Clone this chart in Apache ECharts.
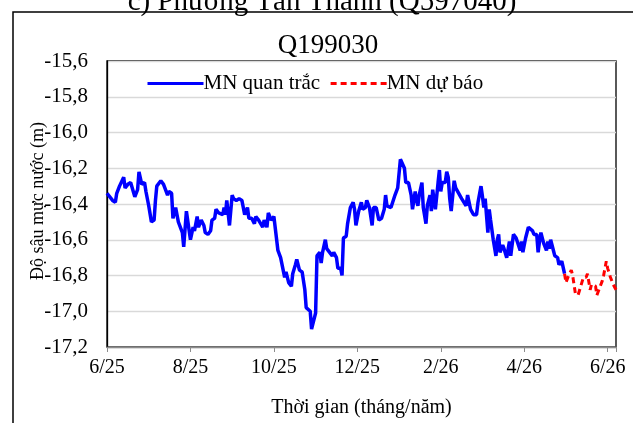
<!DOCTYPE html>
<html>
<head>
<meta charset="utf-8">
<script src="https://cdn.jsdelivr.net/npm/echarts@6/dist/echarts.min.js"></script>
<style>html,body{margin:0;padding:0;background:#fff;}#c{width:633px;height:423px;}</style>
</head>
<body>
<div id="c"></div>
<script>
// Days since 2025-06-01 and groundwater depth (m)
const startDate = [2025, 5, 1]; // 1 June 2025 (JS month index)
const obsDays = [0,1,4,6,7,9,12,13,15,17,20,22,23,25,27,28,30,32,34,35,36,39,41,42,44,45,47,48,50,52,53,55,56,58,59,61,63,64,66,67,69,71,72,74,76,77,79,80,82,85,86,87,88,90,92,93,95,97,99,101,103,104,106,108,109,111,114,115,117,118,120,122,123,125,127,128,130,131,133,135,136,138,139,141,143,145,146,149,150,152,153,154,156,157,158,160,161,162,165,166,168,169,171,172,173,175,176,178,180,181,182,184,186,187,189,190,192,194,195,197,199,201,203,204,205,208,209,211,213,215,216,218,219,221,223,224,226,227,228,229,231,232,234,235,237,238,239,240,241,243,244,245,246,248,249,250,251,252,254,255,256,259,260,262,263,265,267,269,270,272,273,274,275,277,278,279,280,281,283,284,285,286,288,289,291,293,294,296,298,299,301,302,303,305,307,308,310,311,313,314,315,316,317,318,320,321,322,323,325,326,328,329,331,333];
const obsValues = [-16.34,-16.33,-16.38,-16.39,-16.34,-16.30,-16.25,-16.31,-16.29,-16.28,-16.36,-16.32,-16.22,-16.29,-16.28,-16.33,-16.41,-16.50,-16.49,-16.38,-16.30,-16.27,-16.29,-16.30,-16.35,-16.33,-16.34,-16.48,-16.42,-16.50,-16.49,-16.56,-16.64,-16.44,-16.43,-16.60,-16.53,-16.55,-16.47,-16.53,-16.49,-16.52,-16.56,-16.57,-16.55,-16.49,-16.48,-16.43,-16.45,-16.46,-16.42,-16.46,-16.38,-16.52,-16.35,-16.37,-16.38,-16.37,-16.38,-16.46,-16.42,-16.48,-16.48,-16.51,-16.47,-16.49,-16.53,-16.49,-16.53,-16.45,-16.49,-16.47,-16.48,-16.66,-16.70,-16.70,-16.81,-16.78,-16.84,-16.86,-16.79,-16.74,-16.71,-16.77,-16.78,-16.88,-16.98,-17.00,-17.10,-17.04,-17.01,-16.69,-16.67,-16.73,-16.67,-16.60,-16.65,-16.64,-16.69,-16.67,-16.70,-16.76,-16.76,-16.80,-16.59,-16.58,-16.51,-16.42,-16.39,-16.43,-16.52,-16.44,-16.39,-16.43,-16.42,-16.38,-16.42,-16.52,-16.42,-16.42,-16.49,-16.48,-16.43,-16.35,-16.41,-16.42,-16.41,-16.35,-16.31,-16.15,-16.15,-16.20,-16.28,-16.28,-16.35,-16.43,-16.33,-16.38,-16.41,-16.35,-16.28,-16.42,-16.51,-16.41,-16.35,-16.44,-16.32,-16.32,-16.43,-16.28,-16.21,-16.33,-16.28,-16.28,-16.22,-16.25,-16.37,-16.44,-16.27,-16.31,-16.32,-16.37,-16.37,-16.41,-16.35,-16.43,-16.46,-16.46,-16.39,-16.30,-16.36,-16.42,-16.37,-16.56,-16.43,-16.49,-16.48,-16.60,-16.69,-16.60,-16.57,-16.67,-16.63,-16.65,-16.70,-16.61,-16.69,-16.57,-16.59,-16.58,-16.66,-16.61,-16.67,-16.59,-16.53,-16.53,-16.55,-16.57,-16.57,-16.67,-16.61,-16.56,-16.55,-16.62,-16.66,-16.61,-16.65,-16.60,-16.66,-16.69,-16.70,-16.74,-16.72,-16.79];
const fcDays = [333,334,336,338,339,341,343,345,347,349,350,352,353,356,357,359,361,362,364,365,367,369,371];
const fcValues = [-16.79,-16.84,-16.80,-16.77,-16.80,-16.90,-16.91,-16.86,-16.81,-16.81,-16.79,-16.88,-16.85,-16.86,-16.91,-16.87,-16.83,-16.80,-16.72,-16.76,-16.81,-16.85,-16.88];
const yTicks = [-17.2,-17.0,-16.8,-16.6,-16.4,-16.2,-16.0,-15.8,-15.6];
const seriesNames = ['MN quan trắc', 'MN dự báo'];
const chartTitle = 'Q199030';
const panelTitle = 'c) Phường Tân Thành (Q597040)';
const xAxisName = 'Thời gian (tháng/năm)';
const yAxisName = 'Độ sâu mực nước (m)';

// convert day offset to position in months since June 2025
function monthPos(dayOffset) {
  const d = new Date(Date.UTC(startDate[0], startDate[1], startDate[2] + dayOffset));
  const m = (d.getUTCFullYear() - startDate[0]) * 12 + d.getUTCMonth() - startDate[1];
  const dim = new Date(Date.UTC(d.getUTCFullYear(), d.getUTCMonth() + 1, 0)).getUTCDate();
  return m + (d.getUTCDate() - 1) / dim;
}
const obsData = obsDays.map((d, i) => [monthPos(d), obsValues[i]]);
const fcData = fcDays.map((d, i) => [monthPos(d), fcValues[i]]);
const xMax = monthPos(fcDays[fcDays.length - 1]);

const font = 'Liberation Serif, Times New Roman, serif';
const chart = echarts.init(document.getElementById('c'), null, {renderer: 'canvas'});
chart.setOption({
  animation: false,
  backgroundColor: '#fff',
  title: [
    {text: chartTitle, left: 323, top: 27, textAlign: 'center',
     textStyle: {fontFamily: font, fontSize: 27, fontWeight: 'normal', color: '#000'}},
    {text: panelTitle, left: 317, top: -17, textAlign: 'center',
     textStyle: {fontFamily: font, fontSize: 29, fontWeight: 'normal', color: '#000'}}
  ],
  graphic: [{type: 'rect', shape: {x: 13, y: 12, width: 640, height: 430},
    style: {fill: 'none', stroke: '#000', lineWidth: 1.5}, silent: true, z: 100}],
  legend: {
    left: 141, top: 68, itemWidth: 56, itemHeight: 10, itemGap: 9,
    itemStyle: {opacity: 0},
    lineStyle: {width: 3},
    textStyle: {fontFamily: font, fontSize: 21, color: '#000', padding: [0,0,0,-5]},
    data: seriesNames
  },
  grid: {left: 107, right: 17, top: 61, bottom: 76, show: true, borderColor: '#000', borderWidth: 1.3, backgroundColor: 'transparent'},
  xAxis: {
    type: 'value', min: 0, max: xMax, interval: 2,
    name: xAxisName, nameLocation: 'middle', nameGap: 51,
    nameTextStyle: {fontFamily: font, fontSize: 20, color: '#000'},
    axisLine: {show: true, lineStyle: {color: '#8c8c8c', width: 1.3}},
    axisTick: {show: true, length: 5, lineStyle: {color: '#8c8c8c'}},
    splitLine: {show: false},
    axisLabel: {fontFamily: font, fontSize: 20, color: '#000', margin: 11,
      formatter: function (v) {
        if (Math.abs(v - Math.round(v)) > 1e-6 || Math.round(v) % 2 !== 0) return '';
        const k = Math.round(v);
        const mo = (5 + k) % 12 + 1;
        const yr = 25 + Math.floor((5 + k) / 12);
        return mo + '/' + yr;
      }}
  },
  yAxis: {
    type: 'value', min: yTicks[0], max: yTicks[yTicks.length - 1], interval: 0.2,
    name: yAxisName, nameLocation: 'middle', nameRotate: 90, nameGap: 60,
    nameMoveOverlap: false,
    nameTextStyle: {fontFamily: font, fontSize: 18, color: '#000', padding: [0, 0, 0, 6]},
    axisLine: {show: true, lineStyle: {color: '#000', width: 1.3}},
    axisTick: {show: false},
    splitLine: {show: true, lineStyle: {color: '#d9d9d9', width: 1.3}},
    axisLabel: {fontFamily: font, fontSize: 21, color: '#000', margin: 19,
      formatter: v => v.toFixed(1).replace('.', ',')}
  },
  series: [
    {name: seriesNames[0], type: 'line', data: obsData, symbol: 'none', z: 3,
     lineStyle: {color: '#0000ff', width: 3.5}, itemStyle: {color: '#0000ff'}},
    {name: seriesNames[1], type: 'line', data: fcData, symbol: 'none', z: 4,
     lineStyle: {color: '#ff0000', width: 3, type: [6, 4]}, itemStyle: {color: '#ff0000'}}
  ]
});
</script>
</body>
</html>
